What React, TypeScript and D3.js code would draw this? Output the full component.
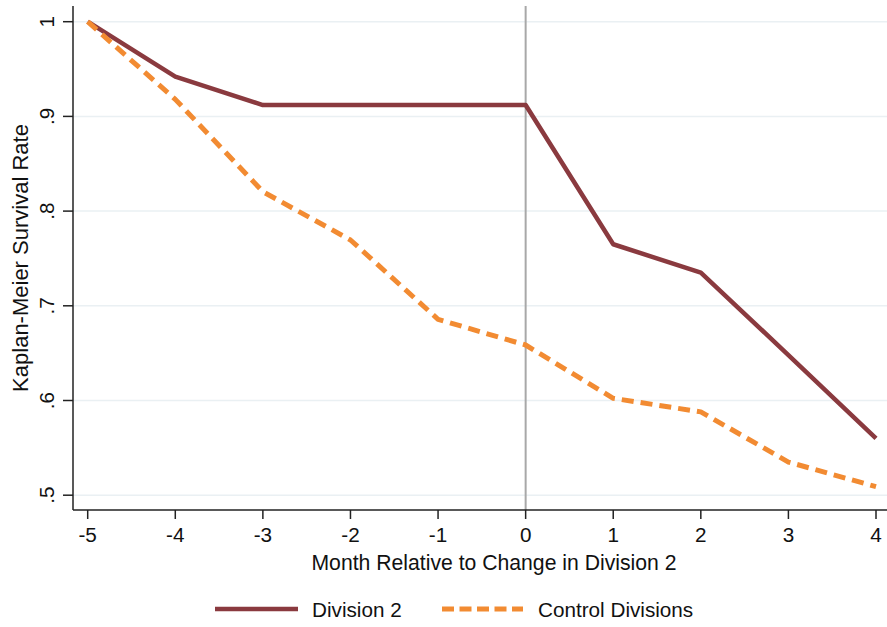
import React from "react";
import * as d3 from "d3";

const months = [-5, -4, -3, -2, -1, 0, 1, 2, 3, 4];
const division2 = [1, 0.942, 0.912, 0.912, 0.912, 0.912, 0.765, 0.735, 0.648, 0.56];
const control = [1, 0.918, 0.8205, 0.7695, 0.6857, 0.6586, 0.6023, 0.588, 0.535, 0.509];
const yTicks = [0.5, 0.6, 0.7, 0.8, 0.9, 1];
const yTickLabels = [".5", ".6", ".7", ".8", ".9", "1"];
const seriesNames = ["Division 2", "Control Divisions"];
const xTitle = "Month Relative to Change in Division 2";
const yTitle = "Kaplan-Meier Survival Rate";

const W = 887;
const H = 627;
const FONT = "'Liberation Sans', Arial, Helvetica, sans-serif";
const FS = 20.7;
const MAROON = "#8A3A3F";
const ORANGE = "#F28B32";

export default function App() {
  const x = d3.scaleLinear().domain([-5, 4]).range([87.7, 876]);
  const y = d3.scaleLinear().domain([0.5, 1]).range([495.2, 21.7]);
  const axisX = 73;
  const axisY = 510;
  const top = 6;

  const line = d3
    .line<number>()
    .x((_, i) => x(months[i]))
    .y((d) => y(d));

  return (
    <svg
      width={W}
      height={H}
      style={{ position: "absolute", left: 0, top: 0, background: "#fff" }}
      fontFamily={FONT}
    >
      <rect x={0} y={0} width={W} height={H} fill="#fff" />
      {/* gridlines */}
      {yTicks.map((t) => (
        <line key={"g" + t} x1={axisX} x2={W} y1={y(t)} y2={y(t)} stroke="#EAF0F3" strokeWidth={1.5} />
      ))}
      {/* vertical reference line */}
      <line x1={x(0)} x2={x(0)} y1={top} y2={axisY} stroke="#A8A8A8" strokeWidth={2} />
      {/* series */}
      <path d={line(division2) || ""} fill="none" stroke={MAROON} strokeWidth={4.5} strokeLinejoin="round" />
      <path
        d={line(control) || ""}
        fill="none"
        stroke={ORANGE}
        strokeWidth={5}
        strokeDasharray="12 7"
        strokeLinejoin="round"
      />
      {/* axes */}
      <line x1={axisX} x2={axisX} y1={top} y2={axisY} stroke="#222" strokeWidth={1.5} />
      <line x1={axisX} x2={W} y1={axisY} y2={axisY} stroke="#222" strokeWidth={1.5} />
      {yTicks.map((t, i) => (
        <g key={"yt" + t}>
          <line x1={axisX - 10} x2={axisX} y1={y(t)} y2={y(t)} stroke="#222" strokeWidth={1.5} />
          <text
            transform={`translate(${53.5},${y(t)}) rotate(-90)`}
            textAnchor="middle"
            fontSize={FS}
            fill="#111"
          >
            {yTickLabels[i]}
          </text>
        </g>
      ))}
      {months.map((m) => (
        <g key={"xt" + m}>
          <line x1={x(m)} x2={x(m)} y1={axisY} y2={axisY + 9} stroke="#222" strokeWidth={1.5} />
          <text x={x(m)} y={542} textAnchor="middle" fontSize={FS} fill="#111">
            {m}
          </text>
        </g>
      ))}
      <text x={494} y={570} textAnchor="middle" fontSize={21.2} fill="#111">
        {xTitle}
      </text>
      <text transform={`translate(27.5,${258}) rotate(-90)`} textAnchor="middle" fontSize={22} fill="#111">
        {yTitle}
      </text>
      {/* legend */}
      <line x1={215} x2={298} y1={609} y2={609} stroke={MAROON} strokeWidth={4.5} />
      <text x={312} y={616.5} fontSize={FS} fill="#111">
        {seriesNames[0]}
      </text>
      <line x1={442} x2={523} y1={609} y2={609} stroke={ORANGE} strokeWidth={5} strokeDasharray="12 5.5" />
      <text x={538} y={616.5} fontSize={FS} fill="#111">
        {seriesNames[1]}
      </text>
    </svg>
  );
}
